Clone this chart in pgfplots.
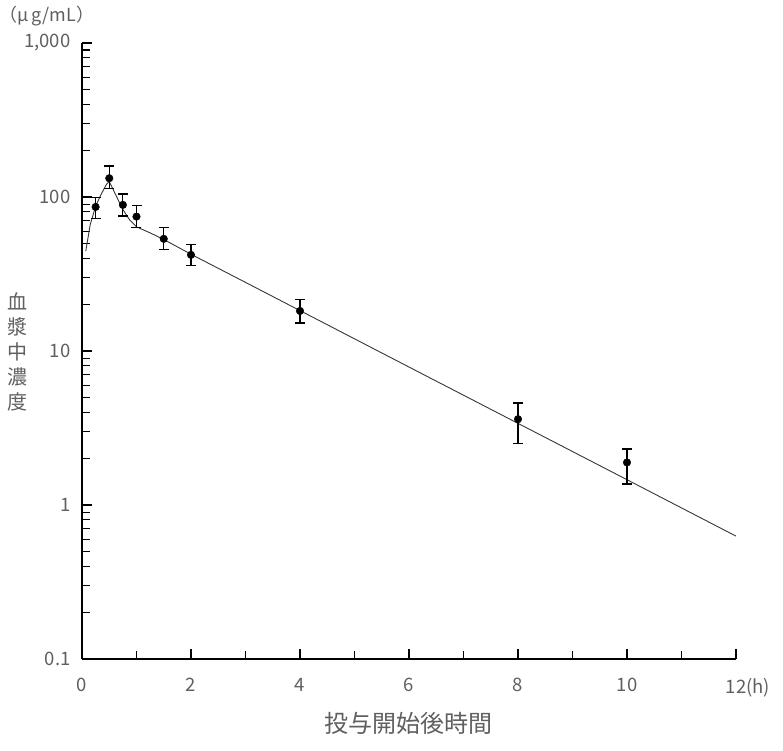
\documentclass[border=0pt]{standalone}
\usepackage{fontspec}
\setmainfont{Noto Sans CJK JP}
\usepackage{pgfplots}
\pgfplotsset{compat=1.18}
\definecolor{lab}{RGB}{95,95,95}
\definecolor{crv}{RGB}{55,55,55}
\pgfplotstableread{
t v ep em
0.25 86.2 13.2 13.4
0.5 132.4 26.6 18.4
0.75 88.9 15.8 13.5
1 74.6 13.3 10.9
1.5 53.5 9.8 8.1
2 42.1 7.3 6.4
4 18.2 3.5 3.0
8 3.61 0.98 1.09
10 1.89 0.42 0.52
}\meas
\begin{document}
\begin{tikzpicture}[x=1pt,y=1pt]
\useasboundingbox (-82,-91) rectangle (701,659);
\begin{axis}[
  at={(0,0)}, anchor=south west,
  scale only axis, width=654pt, height=616pt,
  ymode=log, xmin=0, xmax=12, ymin=0.1, ymax=1000,
  axis x line*=bottom, axis y line*=left,
  axis line style={line width=1.3pt, black},
  xtick={0,2,4,6,8,10,12}, minor xtick={1,3,5,7,9,11},
  xticklabels={0,2,4,6,8,10,12\rlap{(h)}},
  ytick={0.1,1,10,100,1000}, yticklabels={0.1,1,10,100,{1,000}},
  minor ytick={0.2,0.3,0.4,0.5,0.6,0.7,0.8,0.9,2,3,4,5,6,7,8,9,20,30,40,50,60,70,80,90,200,300,400,500,600,700,800,900},
  tick align=inside, major tick length=10pt, minor tick length=8pt,
  every tick/.style={line width=1.1pt, black},
  tick label style={font=\fontsize{18.5}{18.5}\selectfont, text=lab},
  xticklabel style={yshift=-16pt},
  yticklabel style={xshift=-8pt},
  /pgf/number format/assume math mode=true,
  clip=false,
]
\addplot[crv, line width=0.9pt, no marks] coordinates {
(0.07,44.7) (0.15,66) (0.25,87) (0.35,104) (0.45,121) (0.5,126)
(0.55,116) (0.65,98) (0.75,83) (0.875,71) (1.0,64) (1.25,58.5)
(1.5,53) (2.0,42.5) (3,27.9) (4,18.3) (6,7.87) (8,3.39) (10,1.46) (12,0.628)
};
\addplot[only marks, mark=*, mark size=3.8pt, black,
  error bars/.cd, y dir=both, y explicit,
  error bar style={line width=1.2pt, black},
  error mark options={rotate=90, mark size=5pt, line width=1.2pt, black}]
  table[x=t, y=v, y error plus=ep, y error minus=em] {\meas};
\end{axis}
\node[font=\fontsize{18}{18}\selectfont, text=lab] at (-35,643) {（μ\,g/mL）};
\node[font=\fontsize{20}{25}\selectfont, text=lab, align=center] at (-64,307) {血\\漿\\中\\濃\\度};
\node[font=\fontsize{24}{24}\selectfont, text=lab] at (326,-64) {投与開始後時間};
\end{tikzpicture}
\end{document}
